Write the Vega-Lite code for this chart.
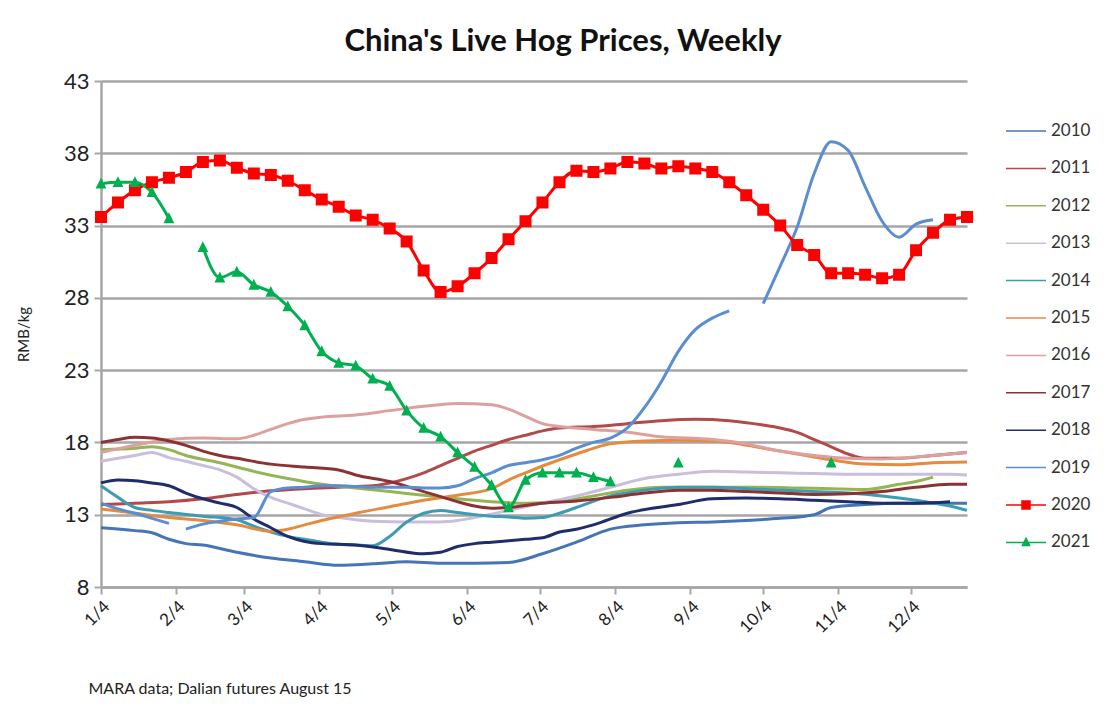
{
  "$schema": "https://vega.github.io/schema/vega-lite/v6.json",
  "width": 866,
  "height": 506,
  "autosize": "none",
  "padding": {"left": 101, "top": 81, "right": 150, "bottom": 125},
  "background": "white",
  "title": {"text": "China's Live Hog Prices, Weekly", "fontSize": 31, "fontWeight": "bold", "font": "Lato", "color": "#111", "anchor": "middle", "dx": 29, "offset": 12},
  "config": {
    "font": "Lato",
    "view": {"stroke": null},
    "legend": {"orient": "none", "legendX": 904, "legendY": 29, "padding": 0, "labelFontSize": 17, "labelColor": "#333", "rowPadding": 8.4, "labelOffset": 4, "symbolSize": 1600, "title": null}
  },
  "datasets": {
    "prices": [
      {"yr":"2010","s":"a","d":4,"v":12.1},{"yr":"2010","s":"a","d":18,"v":11.9},{"yr":"2010","s":"a","d":25,"v":11.75},{"yr":"2010","s":"a","d":32,"v":11.3},{"yr":"2010","s":"a","d":39,"v":11.0},{"yr":"2010","s":"a","d":46,"v":10.9},{"yr":"2010","s":"a","d":60,"v":10.4},{"yr":"2010","s":"a","d":74,"v":10.0},{"yr":"2010","s":"a","d":88,"v":9.75},{"yr":"2010","s":"a","d":102,"v":9.5},{"yr":"2010","s":"a","d":116,"v":9.6},{"yr":"2010","s":"a","d":130,"v":9.75},{"yr":"2010","s":"a","d":144,"v":9.65},{"yr":"2010","s":"a","d":158,"v":9.65},{"yr":"2010","s":"a","d":172,"v":9.7},{"yr":"2010","s":"a","d":186,"v":10.3},{"yr":"2010","s":"a","d":200,"v":11.1},{"yr":"2010","s":"a","d":214,"v":12.0},{"yr":"2010","s":"a","d":228,"v":12.3},{"yr":"2010","s":"a","d":242,"v":12.45},{"yr":"2010","s":"a","d":256,"v":12.5},{"yr":"2010","s":"a","d":270,"v":12.6},{"yr":"2010","s":"a","d":284,"v":12.75},{"yr":"2010","s":"a","d":298,"v":13.0},{"yr":"2010","s":"a","d":305,"v":13.5},{"yr":"2010","s":"a","d":319,"v":13.7},{"yr":"2010","s":"a","d":333,"v":13.8},{"yr":"2010","s":"a","d":347,"v":13.8},{"yr":"2010","s":"a","d":361,"v":13.8},
      {"yr":"2011","s":"a","d":4,"v":13.7},{"yr":"2011","s":"a","d":18,"v":13.8},{"yr":"2011","s":"a","d":32,"v":13.9},{"yr":"2011","s":"a","d":46,"v":14.1},{"yr":"2011","s":"a","d":60,"v":14.4},{"yr":"2011","s":"a","d":74,"v":14.65},{"yr":"2011","s":"a","d":88,"v":14.8},{"yr":"2011","s":"a","d":102,"v":14.9},{"yr":"2011","s":"a","d":116,"v":15.0},{"yr":"2011","s":"a","d":123,"v":15.2},{"yr":"2011","s":"a","d":130,"v":15.5},{"yr":"2011","s":"a","d":137,"v":15.9},{"yr":"2011","s":"a","d":144,"v":16.4},{"yr":"2011","s":"a","d":151,"v":16.9},{"yr":"2011","s":"a","d":158,"v":17.4},{"yr":"2011","s":"a","d":165,"v":17.8},{"yr":"2011","s":"a","d":172,"v":18.2},{"yr":"2011","s":"a","d":179,"v":18.5},{"yr":"2011","s":"a","d":186,"v":18.8},{"yr":"2011","s":"a","d":193,"v":19.0},{"yr":"2011","s":"a","d":207,"v":19.1},{"yr":"2011","s":"a","d":221,"v":19.3},{"yr":"2011","s":"a","d":235,"v":19.5},{"yr":"2011","s":"a","d":249,"v":19.6},{"yr":"2011","s":"a","d":263,"v":19.5},{"yr":"2011","s":"a","d":277,"v":19.2},{"yr":"2011","s":"a","d":284,"v":19.0},{"yr":"2011","s":"a","d":291,"v":18.7},{"yr":"2011","s":"a","d":298,"v":18.2},{"yr":"2011","s":"a","d":305,"v":17.7},{"yr":"2011","s":"a","d":312,"v":17.2},{"yr":"2011","s":"a","d":319,"v":16.9},{"yr":"2011","s":"a","d":333,"v":16.9},{"yr":"2011","s":"a","d":347,"v":17.1},{"yr":"2011","s":"a","d":361,"v":17.3},
      {"yr":"2012","s":"a","d":4,"v":17.5},{"yr":"2012","s":"a","d":18,"v":17.6},{"yr":"2012","s":"a","d":25,"v":17.7},{"yr":"2012","s":"a","d":32,"v":17.5},{"yr":"2012","s":"a","d":39,"v":17.1},{"yr":"2012","s":"a","d":53,"v":16.6},{"yr":"2012","s":"a","d":67,"v":16.0},{"yr":"2012","s":"a","d":81,"v":15.5},{"yr":"2012","s":"a","d":95,"v":15.1},{"yr":"2012","s":"a","d":109,"v":14.85},{"yr":"2012","s":"a","d":123,"v":14.6},{"yr":"2012","s":"a","d":137,"v":14.35},{"yr":"2012","s":"a","d":151,"v":14.1},{"yr":"2012","s":"a","d":165,"v":13.9},{"yr":"2012","s":"a","d":179,"v":13.8},{"yr":"2012","s":"a","d":193,"v":13.9},{"yr":"2012","s":"a","d":207,"v":14.3},{"yr":"2012","s":"a","d":221,"v":14.7},{"yr":"2012","s":"a","d":235,"v":14.9},{"yr":"2012","s":"a","d":249,"v":14.9},{"yr":"2012","s":"a","d":263,"v":14.9},{"yr":"2012","s":"a","d":277,"v":14.9},{"yr":"2012","s":"a","d":291,"v":14.85},{"yr":"2012","s":"a","d":305,"v":14.8},{"yr":"2012","s":"a","d":319,"v":14.75},{"yr":"2012","s":"a","d":333,"v":15.1},{"yr":"2012","s":"a","d":340,"v":15.3},{"yr":"2012","s":"a","d":347,"v":15.6},
      {"yr":"2013","s":"a","d":4,"v":16.7},{"yr":"2013","s":"a","d":18,"v":17.1},{"yr":"2013","s":"a","d":25,"v":17.3},{"yr":"2013","s":"a","d":32,"v":16.95},{"yr":"2013","s":"a","d":39,"v":16.7},{"yr":"2013","s":"a","d":46,"v":16.4},{"yr":"2013","s":"a","d":53,"v":16.1},{"yr":"2013","s":"a","d":60,"v":15.6},{"yr":"2013","s":"a","d":67,"v":14.8},{"yr":"2013","s":"a","d":74,"v":14.2},{"yr":"2013","s":"a","d":81,"v":13.8},{"yr":"2013","s":"a","d":88,"v":13.4},{"yr":"2013","s":"a","d":95,"v":13.0},{"yr":"2013","s":"a","d":102,"v":12.8},{"yr":"2013","s":"a","d":116,"v":12.55},{"yr":"2013","s":"a","d":130,"v":12.5},{"yr":"2013","s":"a","d":144,"v":12.5},{"yr":"2013","s":"a","d":151,"v":12.6},{"yr":"2013","s":"a","d":158,"v":12.8},{"yr":"2013","s":"a","d":172,"v":13.3},{"yr":"2013","s":"a","d":186,"v":13.8},{"yr":"2013","s":"a","d":200,"v":14.3},{"yr":"2013","s":"a","d":214,"v":14.9},{"yr":"2013","s":"a","d":228,"v":15.5},{"yr":"2013","s":"a","d":242,"v":15.8},{"yr":"2013","s":"a","d":256,"v":16.0},{"yr":"2013","s":"a","d":270,"v":15.95},{"yr":"2013","s":"a","d":284,"v":15.9},{"yr":"2013","s":"a","d":298,"v":15.85},{"yr":"2013","s":"a","d":312,"v":15.8},{"yr":"2013","s":"a","d":326,"v":15.8},{"yr":"2013","s":"a","d":340,"v":15.8},{"yr":"2013","s":"a","d":354,"v":15.8},{"yr":"2013","s":"a","d":361,"v":15.75},
      {"yr":"2014","s":"a","d":4,"v":15.0},{"yr":"2014","s":"a","d":11,"v":14.2},{"yr":"2014","s":"a","d":18,"v":13.5},{"yr":"2014","s":"a","d":25,"v":13.3},{"yr":"2014","s":"a","d":32,"v":13.15},{"yr":"2014","s":"a","d":46,"v":12.9},{"yr":"2014","s":"a","d":60,"v":12.65},{"yr":"2014","s":"a","d":67,"v":12.2},{"yr":"2014","s":"a","d":74,"v":11.8},{"yr":"2014","s":"a","d":81,"v":11.5},{"yr":"2014","s":"a","d":88,"v":11.3},{"yr":"2014","s":"a","d":95,"v":11.1},{"yr":"2014","s":"a","d":102,"v":10.95},{"yr":"2014","s":"a","d":109,"v":10.9},{"yr":"2014","s":"a","d":116,"v":10.85},{"yr":"2014","s":"a","d":123,"v":11.5},{"yr":"2014","s":"a","d":130,"v":12.5},{"yr":"2014","s":"a","d":137,"v":13.1},{"yr":"2014","s":"a","d":144,"v":13.3},{"yr":"2014","s":"a","d":151,"v":13.15},{"yr":"2014","s":"a","d":158,"v":13.0},{"yr":"2014","s":"a","d":165,"v":12.9},{"yr":"2014","s":"a","d":172,"v":12.85},{"yr":"2014","s":"a","d":179,"v":12.75},{"yr":"2014","s":"a","d":186,"v":12.8},{"yr":"2014","s":"a","d":193,"v":13.1},{"yr":"2014","s":"a","d":200,"v":13.5},{"yr":"2014","s":"a","d":214,"v":14.3},{"yr":"2014","s":"a","d":228,"v":14.7},{"yr":"2014","s":"a","d":242,"v":14.9},{"yr":"2014","s":"a","d":256,"v":14.9},{"yr":"2014","s":"a","d":270,"v":14.8},{"yr":"2014","s":"a","d":284,"v":14.7},{"yr":"2014","s":"a","d":298,"v":14.6},{"yr":"2014","s":"a","d":312,"v":14.5},{"yr":"2014","s":"a","d":326,"v":14.3},{"yr":"2014","s":"a","d":340,"v":14.0},{"yr":"2014","s":"a","d":354,"v":13.6},{"yr":"2014","s":"a","d":361,"v":13.3},
      {"yr":"2015","s":"a","d":4,"v":13.4},{"yr":"2015","s":"a","d":18,"v":13.1},{"yr":"2015","s":"a","d":32,"v":12.8},{"yr":"2015","s":"a","d":46,"v":12.6},{"yr":"2015","s":"a","d":60,"v":12.3},{"yr":"2015","s":"a","d":74,"v":11.85},{"yr":"2015","s":"a","d":81,"v":12.0},{"yr":"2015","s":"a","d":88,"v":12.3},{"yr":"2015","s":"a","d":95,"v":12.6},{"yr":"2015","s":"a","d":109,"v":13.1},{"yr":"2015","s":"a","d":123,"v":13.55},{"yr":"2015","s":"a","d":137,"v":14.0},{"yr":"2015","s":"a","d":151,"v":14.35},{"yr":"2015","s":"a","d":165,"v":14.8},{"yr":"2015","s":"a","d":172,"v":15.4},{"yr":"2015","s":"a","d":179,"v":15.9},{"yr":"2015","s":"a","d":193,"v":16.8},{"yr":"2015","s":"a","d":200,"v":17.2},{"yr":"2015","s":"a","d":214,"v":17.9},{"yr":"2015","s":"a","d":228,"v":18.1},{"yr":"2015","s":"a","d":242,"v":18.15},{"yr":"2015","s":"a","d":256,"v":18.1},{"yr":"2015","s":"a","d":263,"v":18.0},{"yr":"2015","s":"a","d":277,"v":17.6},{"yr":"2015","s":"a","d":291,"v":17.2},{"yr":"2015","s":"a","d":305,"v":16.8},{"yr":"2015","s":"a","d":319,"v":16.5},{"yr":"2015","s":"a","d":333,"v":16.45},{"yr":"2015","s":"a","d":347,"v":16.6},{"yr":"2015","s":"a","d":361,"v":16.65},
      {"yr":"2016","s":"a","d":4,"v":17.3},{"yr":"2016","s":"a","d":18,"v":17.8},{"yr":"2016","s":"a","d":32,"v":18.2},{"yr":"2016","s":"a","d":46,"v":18.3},{"yr":"2016","s":"a","d":60,"v":18.25},{"yr":"2016","s":"a","d":67,"v":18.5},{"yr":"2016","s":"a","d":74,"v":18.9},{"yr":"2016","s":"a","d":81,"v":19.3},{"yr":"2016","s":"a","d":88,"v":19.6},{"yr":"2016","s":"a","d":95,"v":19.75},{"yr":"2016","s":"a","d":109,"v":19.9},{"yr":"2016","s":"a","d":123,"v":20.2},{"yr":"2016","s":"a","d":137,"v":20.5},{"yr":"2016","s":"a","d":151,"v":20.7},{"yr":"2016","s":"a","d":165,"v":20.6},{"yr":"2016","s":"a","d":172,"v":20.3},{"yr":"2016","s":"a","d":179,"v":19.8},{"yr":"2016","s":"a","d":186,"v":19.3},{"yr":"2016","s":"a","d":193,"v":19.1},{"yr":"2016","s":"a","d":207,"v":18.9},{"yr":"2016","s":"a","d":221,"v":18.7},{"yr":"2016","s":"a","d":235,"v":18.4},{"yr":"2016","s":"a","d":256,"v":18.2},{"yr":"2016","s":"a","d":270,"v":17.9},{"yr":"2016","s":"a","d":284,"v":17.4},{"yr":"2016","s":"a","d":298,"v":17.1},{"yr":"2016","s":"a","d":312,"v":16.9},{"yr":"2016","s":"a","d":326,"v":16.85},{"yr":"2016","s":"a","d":340,"v":17.0},{"yr":"2016","s":"a","d":354,"v":17.2},{"yr":"2016","s":"a","d":361,"v":17.3},
      {"yr":"2017","s":"a","d":4,"v":18.0},{"yr":"2017","s":"a","d":11,"v":18.2},{"yr":"2017","s":"a","d":18,"v":18.35},{"yr":"2017","s":"a","d":25,"v":18.3},{"yr":"2017","s":"a","d":32,"v":18.1},{"yr":"2017","s":"a","d":39,"v":17.8},{"yr":"2017","s":"a","d":46,"v":17.4},{"yr":"2017","s":"a","d":53,"v":17.1},{"yr":"2017","s":"a","d":60,"v":16.9},{"yr":"2017","s":"a","d":74,"v":16.5},{"yr":"2017","s":"a","d":88,"v":16.3},{"yr":"2017","s":"a","d":102,"v":16.1},{"yr":"2017","s":"a","d":109,"v":15.75},{"yr":"2017","s":"a","d":123,"v":15.3},{"yr":"2017","s":"a","d":137,"v":14.6},{"yr":"2017","s":"a","d":144,"v":14.25},{"yr":"2017","s":"a","d":151,"v":13.9},{"yr":"2017","s":"a","d":158,"v":13.6},{"yr":"2017","s":"a","d":165,"v":13.45},{"yr":"2017","s":"a","d":172,"v":13.5},{"yr":"2017","s":"a","d":186,"v":13.8},{"yr":"2017","s":"a","d":200,"v":13.95},{"yr":"2017","s":"a","d":214,"v":14.2},{"yr":"2017","s":"a","d":228,"v":14.5},{"yr":"2017","s":"a","d":242,"v":14.7},{"yr":"2017","s":"a","d":256,"v":14.7},{"yr":"2017","s":"a","d":270,"v":14.6},{"yr":"2017","s":"a","d":284,"v":14.5},{"yr":"2017","s":"a","d":298,"v":14.4},{"yr":"2017","s":"a","d":312,"v":14.45},{"yr":"2017","s":"a","d":326,"v":14.6},{"yr":"2017","s":"a","d":340,"v":14.9},{"yr":"2017","s":"a","d":354,"v":15.1},{"yr":"2017","s":"a","d":361,"v":15.1},
      {"yr":"2018","s":"a","d":4,"v":15.2},{"yr":"2018","s":"a","d":11,"v":15.4},{"yr":"2018","s":"a","d":18,"v":15.35},{"yr":"2018","s":"a","d":25,"v":15.2},{"yr":"2018","s":"a","d":32,"v":15.0},{"yr":"2018","s":"a","d":39,"v":14.5},{"yr":"2018","s":"a","d":46,"v":14.1},{"yr":"2018","s":"a","d":53,"v":13.8},{"yr":"2018","s":"a","d":60,"v":13.5},{"yr":"2018","s":"a","d":67,"v":12.7},{"yr":"2018","s":"a","d":74,"v":12.1},{"yr":"2018","s":"a","d":81,"v":11.5},{"yr":"2018","s":"a","d":88,"v":11.15},{"yr":"2018","s":"a","d":95,"v":11.0},{"yr":"2018","s":"a","d":109,"v":10.9},{"yr":"2018","s":"a","d":123,"v":10.6},{"yr":"2018","s":"a","d":137,"v":10.3},{"yr":"2018","s":"a","d":144,"v":10.4},{"yr":"2018","s":"a","d":151,"v":10.8},{"yr":"2018","s":"a","d":158,"v":11.0},{"yr":"2018","s":"a","d":165,"v":11.1},{"yr":"2018","s":"a","d":179,"v":11.3},{"yr":"2018","s":"a","d":186,"v":11.4},{"yr":"2018","s":"a","d":193,"v":11.8},{"yr":"2018","s":"a","d":200,"v":12.0},{"yr":"2018","s":"a","d":207,"v":12.3},{"yr":"2018","s":"a","d":221,"v":13.1},{"yr":"2018","s":"a","d":242,"v":13.7},{"yr":"2018","s":"a","d":256,"v":14.1},{"yr":"2018","s":"a","d":270,"v":14.15},{"yr":"2018","s":"a","d":284,"v":14.1},{"yr":"2018","s":"a","d":298,"v":14.0},{"yr":"2018","s":"a","d":312,"v":13.9},{"yr":"2018","s":"a","d":326,"v":13.8},{"yr":"2018","s":"a","d":340,"v":13.8},{"yr":"2018","s":"a","d":354,"v":13.9},
      {"yr":"2019","s":"a","d":4,"v":13.8},{"yr":"2019","s":"a","d":11,"v":13.4},{"yr":"2019","s":"a","d":18,"v":13.1},{"yr":"2019","s":"a","d":25,"v":12.75},{"yr":"2019","s":"a","d":32,"v":12.4},
      {"yr":"2019","s":"b","d":39,"v":12.0},{"yr":"2019","s":"b","d":46,"v":12.35},{"yr":"2019","s":"b","d":53,"v":12.55},{"yr":"2019","s":"b","d":60,"v":12.7},{"yr":"2019","s":"b","d":67,"v":12.8},{"yr":"2019","s":"b","d":74,"v":14.6},{"yr":"2019","s":"b","d":81,"v":14.85},{"yr":"2019","s":"b","d":88,"v":14.9},{"yr":"2019","s":"b","d":95,"v":15.0},{"yr":"2019","s":"b","d":102,"v":15.0},{"yr":"2019","s":"b","d":109,"v":14.95},{"yr":"2019","s":"b","d":116,"v":14.9},{"yr":"2019","s":"b","d":123,"v":14.9},{"yr":"2019","s":"b","d":130,"v":14.9},{"yr":"2019","s":"b","d":137,"v":14.85},{"yr":"2019","s":"b","d":144,"v":14.85},{"yr":"2019","s":"b","d":151,"v":15.0},{"yr":"2019","s":"b","d":158,"v":15.5},{"yr":"2019","s":"b","d":165,"v":15.9},{"yr":"2019","s":"b","d":172,"v":16.4},{"yr":"2019","s":"b","d":179,"v":16.6},{"yr":"2019","s":"b","d":186,"v":16.8},{"yr":"2019","s":"b","d":193,"v":17.1},{"yr":"2019","s":"b","d":200,"v":17.6},{"yr":"2019","s":"b","d":207,"v":18.0},{"yr":"2019","s":"b","d":214,"v":18.3},{"yr":"2019","s":"b","d":221,"v":19.0},{"yr":"2019","s":"b","d":228,"v":20.4},{"yr":"2019","s":"b","d":235,"v":22.2},{"yr":"2019","s":"b","d":242,"v":24.3},{"yr":"2019","s":"b","d":249,"v":25.8},{"yr":"2019","s":"b","d":256,"v":26.6},{"yr":"2019","s":"b","d":263,"v":27.1},
      {"yr":"2019","s":"c","d":277,"v":27.6},{"yr":"2019","s":"c","d":284,"v":30.2},{"yr":"2019","s":"c","d":291,"v":32.9},{"yr":"2019","s":"c","d":298,"v":36.6},{"yr":"2019","s":"c","d":305,"v":38.8},{"yr":"2019","s":"c","d":312,"v":38.2},{"yr":"2019","s":"c","d":319,"v":35.7},{"yr":"2019","s":"c","d":326,"v":33.3},{"yr":"2019","s":"c","d":333,"v":32.2},{"yr":"2019","s":"c","d":340,"v":33.1},{"yr":"2019","s":"c","d":347,"v":33.4},
      {"yr":"2020","s":"a","d":4,"v":33.6},{"yr":"2020","s":"a","d":11,"v":34.6},{"yr":"2020","s":"a","d":18,"v":35.45},{"yr":"2020","s":"a","d":25,"v":36.0},{"yr":"2020","s":"a","d":32,"v":36.3},{"yr":"2020","s":"a","d":39,"v":36.7},{"yr":"2020","s":"a","d":46,"v":37.4},{"yr":"2020","s":"a","d":53,"v":37.5},{"yr":"2020","s":"a","d":60,"v":37.0},{"yr":"2020","s":"a","d":67,"v":36.6},{"yr":"2020","s":"a","d":74,"v":36.5},{"yr":"2020","s":"a","d":81,"v":36.1},{"yr":"2020","s":"a","d":88,"v":35.45},{"yr":"2020","s":"a","d":95,"v":34.8},{"yr":"2020","s":"a","d":102,"v":34.3},{"yr":"2020","s":"a","d":109,"v":33.7},{"yr":"2020","s":"a","d":116,"v":33.4},{"yr":"2020","s":"a","d":123,"v":32.8},{"yr":"2020","s":"a","d":130,"v":31.9},{"yr":"2020","s":"a","d":137,"v":29.9},{"yr":"2020","s":"a","d":144,"v":28.4},{"yr":"2020","s":"a","d":151,"v":28.8},{"yr":"2020","s":"a","d":158,"v":29.7},{"yr":"2020","s":"a","d":165,"v":30.75},{"yr":"2020","s":"a","d":172,"v":32.05},{"yr":"2020","s":"a","d":179,"v":33.3},{"yr":"2020","s":"a","d":186,"v":34.6},{"yr":"2020","s":"a","d":193,"v":36.0},{"yr":"2020","s":"a","d":200,"v":36.8},{"yr":"2020","s":"a","d":207,"v":36.7},{"yr":"2020","s":"a","d":214,"v":36.95},{"yr":"2020","s":"a","d":221,"v":37.4},{"yr":"2020","s":"a","d":228,"v":37.3},{"yr":"2020","s":"a","d":235,"v":36.95},{"yr":"2020","s":"a","d":242,"v":37.1},{"yr":"2020","s":"a","d":249,"v":36.95},{"yr":"2020","s":"a","d":256,"v":36.7},{"yr":"2020","s":"a","d":263,"v":36.0},{"yr":"2020","s":"a","d":270,"v":35.1},{"yr":"2020","s":"a","d":277,"v":34.1},{"yr":"2020","s":"a","d":284,"v":33.0},{"yr":"2020","s":"a","d":291,"v":31.65},{"yr":"2020","s":"a","d":298,"v":30.96},{"yr":"2020","s":"a","d":305,"v":29.7},{"yr":"2020","s":"a","d":312,"v":29.7},{"yr":"2020","s":"a","d":319,"v":29.6},{"yr":"2020","s":"a","d":326,"v":29.35},{"yr":"2020","s":"a","d":333,"v":29.6},{"yr":"2020","s":"a","d":340,"v":31.3},{"yr":"2020","s":"a","d":347,"v":32.5},{"yr":"2020","s":"a","d":354,"v":33.4},{"yr":"2020","s":"a","d":361,"v":33.6},
      {"yr":"2021","s":"a","d":4,"v":35.9},{"yr":"2021","s":"a","d":11,"v":36.0},{"yr":"2021","s":"a","d":18,"v":36.0},{"yr":"2021","s":"a","d":25,"v":35.3},{"yr":"2021","s":"a","d":32,"v":33.5},
      {"yr":"2021","s":"b","d":46,"v":31.5},{"yr":"2021","s":"b","d":53,"v":29.4},{"yr":"2021","s":"b","d":60,"v":29.8},{"yr":"2021","s":"b","d":67,"v":28.9},{"yr":"2021","s":"b","d":74,"v":28.4},{"yr":"2021","s":"b","d":81,"v":27.4},{"yr":"2021","s":"b","d":88,"v":26.1},{"yr":"2021","s":"b","d":95,"v":24.3},{"yr":"2021","s":"b","d":102,"v":23.5},{"yr":"2021","s":"b","d":109,"v":23.3},{"yr":"2021","s":"b","d":116,"v":22.4},{"yr":"2021","s":"b","d":123,"v":21.9},{"yr":"2021","s":"b","d":130,"v":20.2},{"yr":"2021","s":"b","d":137,"v":19.0},{"yr":"2021","s":"b","d":144,"v":18.4},{"yr":"2021","s":"b","d":151,"v":17.3},{"yr":"2021","s":"b","d":158,"v":16.3},{"yr":"2021","s":"b","d":165,"v":15.05},{"yr":"2021","s":"b","d":172,"v":13.5},{"yr":"2021","s":"b","d":179,"v":15.4},{"yr":"2021","s":"b","d":186,"v":15.9},{"yr":"2021","s":"b","d":193,"v":15.9},{"yr":"2021","s":"b","d":200,"v":15.9},{"yr":"2021","s":"b","d":207,"v":15.6},{"yr":"2021","s":"b","d":214,"v":15.3},
      {"yr":"2021","s":"c","d":242,"v":16.6},
      {"yr":"2021","s":"d","d":305,"v":16.6}
    ]
  },
  "data": {"name": "prices"},
  "encoding": {
    "x": {
      "field": "d", "type": "quantitative",
      "scale": {"domain": [4, 361], "nice": false, "zero": false},
      "axis": {
        "values": [4, 35, 63, 94, 124, 155, 185, 216, 247, 277, 308, 338],
        "labelExpr": "(indexof([4,35,63,94,124,155,185,216,247,277,308,338], datum.value) + 1) + '/4'",
        "labelAngle": -45, "labelFontSize": 17, "labelColor": "#222", "labelPadding": 4,
        "grid": false, "domain": true, "domainColor": "#A6A6A6", "domainWidth": 2.5,
        "ticks": true, "tickSize": 7, "tickColor": "#A6A6A6", "tickWidth": 2,
        "title": "MARA data;  Dalian futures August 15", "titleFontSize": 16, "titleFontWeight": "normal", "titleColor": "#222",
        "titleAnchor": "start", "titleAlign": "left", "titleBaseline": "alphabetic", "titleX": -13, "titleY": 106
      }
    },
    "y": {
      "field": "v", "type": "quantitative",
      "scale": {"domain": [8, 43], "nice": false, "zero": false},
      "axis": {
        "values": [8, 13, 18, 23, 28, 33, 38, 43],
        "labelFontSize": 22, "labelColor": "#222", "labelPadding": 5,
        "grid": true, "gridColor": "#A6A6A6", "gridWidth": 2.5,
        "domain": true, "domainColor": "#A6A6A6", "domainWidth": 2.5,
        "ticks": true, "tickSize": 7, "tickColor": "#A6A6A6", "tickWidth": 2,
        "title": "RMB/kg", "titleFontSize": 15, "titleFontWeight": "normal", "titleColor": "#222", "titlePadding": 32
      }
    },
    "color": {
      "field": "yr", "type": "nominal",
      "scale": {
        "domain": ["2010","2011","2012","2013","2014","2015","2016","2017","2018","2019","2020","2021"],
        "range": ["#4675B5","#B14A48","#94B455","#C9BEDB","#3E9BB2","#E58B3F","#DDA0A0","#8C3234","#1F2D6B","#5A8ED1","#FF0000","#00B050"]
      }
    }
  },
  "layer": [
    {
      "mark": {"type": "line", "strokeWidth": 3, "interpolate": "monotone"},
      "encoding": {"detail": {"field": "s"}}
    },
    {
      "transform": [{"filter": {"field": "yr", "oneOf": ["2020", "2021"]}}],
      "mark": {"type": "point", "filled": true, "opacity": 1, "size": 3600, "strokeWidth": 0},
      "encoding": {
        "shape": {
          "field": "yr", "type": "nominal",
          "scale": {
            "domain": ["2010","2011","2012","2013","2014","2015","2016","2017","2018","2019","2020","2021"],
            "range": ["M-1,0H1","M-1,0H1","M-1,0H1","M-1,0H1","M-1,0H1","M-1,0H1","M-1,0H1","M-1,0H1","M-1,0H1","M-1,0H1","M-1,0H1M-0.2,-0.2H0.2V0.2H-0.2Z","M-1,0H1M0,-0.2L0.18,0.16H-0.18Z"]
          },
          "legend": {
            "encode": {"symbols": {"update": {
              "fill": {"scale": "color", "field": "value"},
              "stroke": {"scale": "color", "field": "value"},
              "strokeWidth": {"value": 3.5},
              "size": {"value": 1600},
              "opacity": {"value": 1}
            }}}
          }
        }
      }
    }
  ]
}
